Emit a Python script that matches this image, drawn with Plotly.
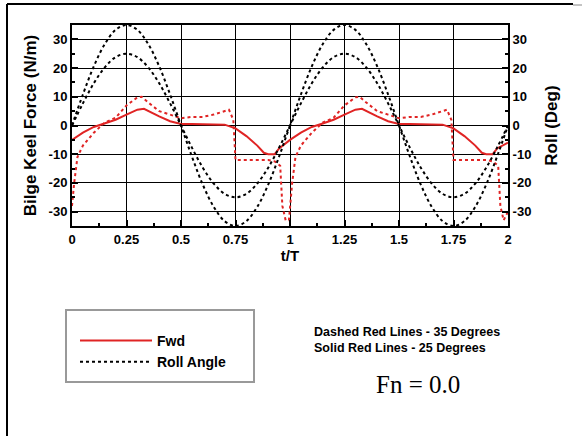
import plotly.graph_objects as go

# ---------------- data ----------------
# Roll angle (deg), read at t/T steps of 0.05
t_roll = [0.00, 0.05, 0.10, 0.15, 0.20, 0.25, 0.30, 0.35, 0.40, 0.45,
          0.50, 0.55, 0.60, 0.65, 0.70, 0.75, 0.80, 0.85, 0.90, 0.95,
          1.00, 1.05, 1.10, 1.15, 1.20, 1.25, 1.30, 1.35, 1.40, 1.45,
          1.50, 1.55, 1.60, 1.65, 1.70, 1.75, 1.80, 1.85, 1.90, 1.95, 2.00]
roll_25 = [0, 7.7, 14.7, 20.2, 23.8, 25, 23.8, 20.2, 14.7, 7.7,
           0, -7.7, -14.7, -20.2, -23.8, -25, -23.8, -20.2, -14.7, -7.7,
           0, 7.7, 14.7, 20.2, 23.8, 25, 23.8, 20.2, 14.7, 7.7,
           0, -7.7, -14.7, -20.2, -23.8, -25, -23.8, -20.2, -14.7, -7.7, 0]
roll_35 = [0, 10.8, 20.6, 28.3, 33.3, 35, 33.3, 28.3, 20.6, 10.8,
           0, -10.8, -20.6, -28.3, -33.3, -35, -33.3, -28.3, -20.6, -10.8,
           0, 10.8, 20.6, 28.3, 33.3, 35, 33.3, 28.3, 20.6, 10.8,
           0, -10.8, -20.6, -28.3, -33.3, -35, -33.3, -28.3, -20.6, -10.8, 0]

# Fwd bilge keel force (N/m), 25 degrees roll (solid)
t_fwd25 = [0.00, 0.05, 0.10, 0.15, 0.20, 0.25, 0.30, 0.33, 0.35, 0.40, 0.45,
           0.50, 0.55, 0.60, 0.65, 0.70, 0.75, 0.80, 0.85, 0.88, 0.90, 0.93, 0.95,
           1.00, 1.05, 1.10, 1.15, 1.20, 1.25, 1.30, 1.33, 1.35, 1.40, 1.45,
           1.50, 1.55, 1.60, 1.65, 1.70, 1.75, 1.80, 1.85, 1.88, 1.90, 1.93, 1.95, 2.00]
fwd_25 = [-5, -2.5, -0.5, 0.7, 2, 3.8, 5.5, 5.8, 5, 3.2, 1.5,
          0.5, 0.5, 0.5, 0.5, 0.3, -1, -3.7, -7, -9.5, -10, -10, -8,
          -5, -2.5, -0.5, 0.7, 2, 3.8, 5.5, 5.8, 5, 3.2, 1.5,
          0.5, 0.5, 0.5, 0.5, 0.3, -1, -3.7, -7, -9.5, -10, -10, -8, -6]

# Fwd bilge keel force (N/m), 35 degrees roll (dashed)
t_fwd35 = [0.00, 0.01, 0.025, 0.05, 0.10, 0.15, 0.20, 0.25, 0.30, 0.32, 0.35,
           0.40, 0.45, 0.50, 0.55, 0.60, 0.65, 0.70, 0.72, 0.74, 0.75, 0.80,
           0.85, 0.90, 0.93, 0.955, 0.965, 0.98, 0.995,
           1.00, 1.01, 1.025, 1.05, 1.10, 1.15, 1.20, 1.25, 1.30, 1.32, 1.35,
           1.40, 1.45, 1.50, 1.55, 1.60, 1.65, 1.70, 1.72, 1.74, 1.75, 1.80,
           1.85, 1.90, 1.93, 1.955, 1.965, 1.98, 2.00]
fwd_35 = [-28, -20, -11, -7, -2.5, 1, 2.7, 7, 9.8, 10, 8,
          5, 3.8, 2.5, 3, 3, 3.8, 5, 5.5, 2, -12, -12,
          -12, -12, -12.5, -14, -28, -33, -33,
          -28, -20, -11, -7, -2.5, 1, 2.7, 7, 9.8, 10, 8,
          5, 3.8, 2.5, 3, 3, 3.8, 5, 5.5, 2, -12, -12,
          -12, -12, -12.5, -14, -28, -33, -30]

x_ticks = [0, 0.25, 0.5, 0.75, 1, 1.25, 1.5, 1.75, 2]
x_tick_labels = ["0", "0.25", "0.5", "0.75", "1", "1.25", "1.5", "1.75", "2"]
y_ticks = [-30, -20, -10, 0, 10, 20, 30]
y_tick_labels = ["-30", "-20", "-10", "0", "10", "20", "30"]

# ---------------- layout helpers ----------------
W, H = 582, 436
L, R, T, B = 72, 508, 25, 226  # plot area in pixels


def px(x):
    return (x - L) / (R - L)


def py(y):
    return (B - y) / (B - T)


RED = "#e02424"
FONT = "Liberation Sans, Arial, sans-serif"

fig = go.Figure()
fig.add_trace(go.Scatter(x=t_fwd25, y=fwd_25, mode="lines", name="Fwd",
                         line=dict(color=RED, width=2), showlegend=True))
fig.add_trace(go.Scatter(x=t_fwd35, y=fwd_35, mode="lines", name="Fwd 35",
                         line=dict(color=RED, width=2, dash="dot"), showlegend=False))
fig.add_trace(go.Scatter(x=t_roll, y=roll_25, mode="lines", name="Roll Angle",
                         line=dict(color="black", width=2, dash="dot", shape="spline"),
                         yaxis="y2", showlegend=True))
fig.add_trace(go.Scatter(x=t_roll, y=roll_35, mode="lines", name="Roll 35",
                         line=dict(color="black", width=2, dash="dot", shape="spline"),
                         yaxis="y2", showlegend=False))

tickfont = dict(family=FONT, size=13, color="black", weight="bold")
titlefont = dict(family=FONT, size=17, color="black", weight="bold")

fig.update_layout(
    width=W, height=H,
    margin=dict(l=L, r=W - R, t=T, b=H - B, autoexpand=False),
    paper_bgcolor="white", plot_bgcolor="white",
    xaxis=dict(range=[0, 2], tickvals=x_ticks, ticktext=x_tick_labels,
               showgrid=True, gridcolor="black", gridwidth=1.3,
               showline=True, linecolor="black", linewidth=2, mirror=True,
               ticks="inside", ticklen=6, tickwidth=1.5, tickcolor="black",
               minor=dict(dtick=0.125, ticks="inside", ticklen=3, tickcolor="black", showgrid=False),
               tickfont=tickfont, zeroline=False,
               title=dict(text="t/T", font=dict(family=FONT, size=15, color="black", weight="bold"), standoff=0)),
    yaxis=dict(range=[-35, 35], tickvals=y_ticks, ticktext=y_tick_labels,
               showgrid=True, gridcolor="black", gridwidth=1.3,
               showline=True, linecolor="black", linewidth=2, mirror=True,
               ticks="inside", ticklen=6, tickwidth=1.5, tickcolor="black",
               minor=dict(dtick=5, ticks="inside", ticklen=3, tickcolor="black", showgrid=False),
               tickfont=tickfont, zeroline=False,
               title=dict(text="Bilge Keel Force (N/m)", font=titlefont, standoff=8)),
    yaxis2=dict(range=[-35, 35], tickvals=y_ticks, ticktext=y_tick_labels,
                overlaying="y", side="right", showgrid=False,
                showline=True, linecolor="black", linewidth=2,
                ticks="inside", ticklen=6, tickwidth=1.5, tickcolor="black",
                minor=dict(dtick=5, ticks="inside", ticklen=3, tickcolor="black", showgrid=False),
                tickfont=tickfont, zeroline=False,
                title=dict(text="Roll (Deg)", font=titlefont, standoff=15)),
    legend=dict(x=px(75), y=py(325), xanchor="left", yanchor="top",
                bgcolor="rgba(0,0,0,0)", borderwidth=0,
                font=dict(family=FONT, size=14, color="black", weight="bold"),
                itemwidth=72, tracegroupgap=0),
    showlegend=True,
)

# legend frame and outer frame
fig.add_shape(type="rect", xref="paper", yref="paper",
              x0=px(66), x1=px(254), y0=py(382), y1=py(310),
              line=dict(color="#999999", width=2), fillcolor="rgba(0,0,0,0)")
fig.add_shape(type="line", xref="paper", yref="paper",
              x0=px(7), x1=px(7), y0=py(4), y1=py(436),
              line=dict(color="black", width=2))
fig.add_shape(type="line", xref="paper", yref="paper",
              x0=px(7), x1=px(573), y0=py(4), y1=py(4),
              line=dict(color="black", width=2))
fig.add_shape(type="line", xref="paper", yref="paper",
              x0=px(573), x1=px(582), y0=py(5), y1=py(5),
              line=dict(color="#888888", width=1))

fig.add_annotation(xref="paper", yref="paper", x=px(312), y=py(340),
                   xanchor="left", yanchor="middle", showarrow=False, align="left",
                   text="Dashed Red Lines - 35 Degrees<br>Solid Red Lines - 25 Degrees",
                   font=dict(family=FONT, size=12.5, color="black", weight="bold"))
fig.add_annotation(xref="paper", yref="paper", x=px(418), y=py(385),
                   xanchor="center", yanchor="middle", showarrow=False,
                   text="Fn = 0.0",
                   font=dict(family="Liberation Serif, Times New Roman, serif", size=25, color="black"))

fig.write_html("out.html")
